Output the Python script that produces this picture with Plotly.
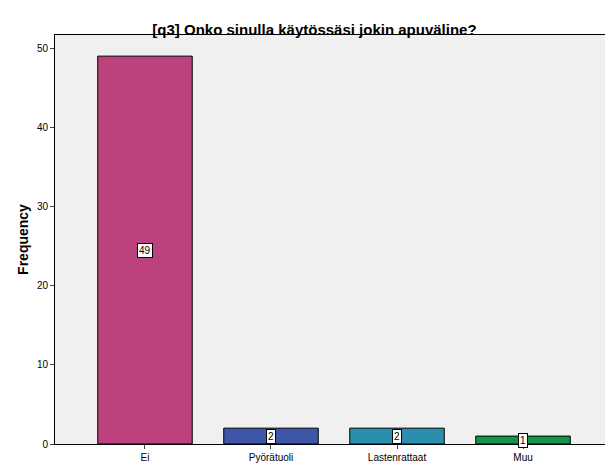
import plotly.graph_objects as go

categories = ["Ei", "Pyörätuoli", "Lastenrattaat", "Muu"]
values = [49, 2, 2, 1]
colors = ["#BC417D", "#3E56A8", "#2A8FAE", "#17924A"]
yticks = [0, 10, 20, 30, 40, 50]

fig = go.Figure(go.Bar(x=list(range(len(categories))), y=values, width=0.75,
                       marker=dict(color=colors, line=dict(color="black", width=1))))
for i, v in enumerate(values):
    fig.add_annotation(x=i, y=v / 2, text=str(v), showarrow=False,
                       bgcolor="white", bordercolor="black", borderwidth=1, borderpad=1,
                       font=dict(size=10, color="black", family="Arial, Liberation Sans"))
fig.update_layout(
    width=613, height=474,
    margin=dict(l=47, r=8, t=27, b=38),
    paper_bgcolor="white", plot_bgcolor="#F0F0F0",
    font=dict(family="Arial, Liberation Sans", color="black"),
    title=dict(text="<b>[q3] Onko sinulla käytössäsi jokin apuväline?</b>", x=0.5, xanchor="center",
               y=0.955, yanchor="middle", font=dict(size=15)),
    showlegend=False,
)
fig.update_xaxes(range=[-0.714, 3.714], tickvals=list(range(len(categories))), ticktext=categories,
                 ticks="outside", ticklen=4, showgrid=False, showline=True, linecolor="black",
                 mirror=True, tickfont=dict(size=10), zeroline=False, automargin=False)
fig.update_yaxes(range=[0, 51.67], tickvals=yticks, ticks="outside", ticklen=4, showgrid=False,
                 showline=True, linecolor="black", mirror=True, tickfont=dict(size=10),
                 title=dict(text="<b>Frequency</b>", font=dict(size=14), standoff=4),
                 zeroline=False, automargin=False)
fig.write_html("out.html")
